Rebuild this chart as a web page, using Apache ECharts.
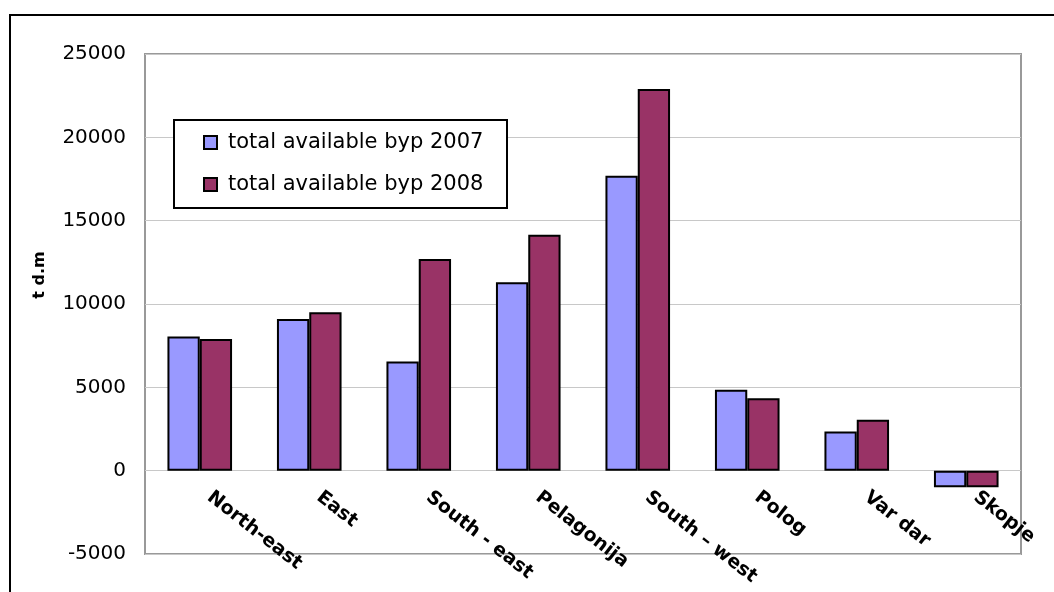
<!DOCTYPE html>
<html>
<head>
<meta charset="utf-8">
<script src="https://cdn.jsdelivr.net/npm/echarts@6/dist/echarts.min.js"></script>
<style>
  html, body { margin: 0; padding: 0; background: #fff; }
  #chart { width: 1054px; height: 592px; }
</style>
</head>
<body>
<div id="chart"></div>
<script>
// Regions of the country
const regions = ['North-east', 'East', 'South - east', 'Pelagonija', 'South – west', 'Polog', 'Var dar', 'Skopje'];

// Total available by-products (t d.m) per region
const byp2007 = [8050, 9100, 6550, 11300, 17700, 4850, 2350, -1000];
const byp2008 = [7900, 9500, 12700, 14150, 22900, 4350, 3050, -1000];

const seriesNames = ['total available byp 2007', 'total available byp 2008'];
const yTicks = { min: -5000, max: 25000, interval: 5000 };
const yAxisTitle = 't d.m';

// Plot area box (px)
const plot = { left: 145, top: 54, right: 33, bottom: 38, height: 500 };
// Category labels hang from the zero line rather than the bottom edge
const zeroOffset = -plot.height * (0 - yTicks.min) / (yTicks.max - yTicks.min);

const chart = echarts.init(document.getElementById('chart'));

const barBorder = { borderColor: '#000', borderWidth: 2 };

chart.setOption({
  animation: false,
  backgroundColor: '#fff',
  textStyle: { fontFamily: 'DejaVu Sans' },
  grid: {
    left: plot.left, top: plot.top, right: plot.right, bottom: plot.bottom,
    outerBoundsMode: 'none',
    containLabel: false,
    show: true, borderColor: '#999', borderWidth: 2, backgroundColor: 'transparent'
  },
  legend: {
    orient: 'vertical',
    left: 203, top: 132,
    padding: 0,
    itemGap: 21,
    itemWidth: 13, itemHeight: 13,
    icon: 'rect',
    z: 10,
    textStyle: { fontFamily: 'DejaVu Sans', fontSize: 21, color: '#000', lineHeight: 21, padding: [0, 0, 0, 6] },
    data: seriesNames
  },
  xAxis: {
    type: 'category',
    data: regions,
    position: 'bottom',
    offset: zeroOffset,
    axisLine: { show: false, onZero: false },
    axisTick: { show: false },
    splitLine: { show: false },
    axisLabel: {
      interval: 0,
      rotate: -38,
      margin: 17,
      padding: [0, 0, 0, 12],
      fontFamily: 'DejaVu Sans',
      fontWeight: 'bold',
      fontSize: 19,
      color: '#000',
      hideOverlap: false
    }
  },
  yAxis: {
    type: 'value',
    min: yTicks.min, max: yTicks.max, interval: yTicks.interval,
    axisLine: { show: false },
    axisTick: { show: false },
    splitLine: { show: true, lineStyle: { color: '#c8c8c8', width: 1 } },
    axisLabel: {
      margin: 19, fontFamily: 'DejaVu Sans', fontSize: 20, color: '#000',
      formatter: v => String(v)
    }
  },
  graphic: [
    {
      type: 'rect', z: -1, silent: true,
      shape: { x: 10, y: 15, width: 1200, height: 800 },
      style: { fill: 'none', stroke: '#000', lineWidth: 2 }
    },
    {
      type: 'rect', z: 5, silent: true,
      shape: { x: 174, y: 120, width: 333, height: 88 },
      style: { fill: '#fff', stroke: '#000', lineWidth: 2 }
    },
    {
      type: 'text', z: 5, silent: true,
      x: 40, y: 275, rotation: Math.PI / 2,
      style: {
        text: yAxisTitle, fill: '#000',
        font: 'bold 16px "DejaVu Sans"',
        align: 'center', verticalAlign: 'middle'
      }
    }
  ],
  series: [
    {
      name: seriesNames[0], type: 'bar', data: byp2007,
      barGap: '0%', barCategoryGap: '41%',
      itemStyle: Object.assign({ color: '#9999FF' }, barBorder)
    },
    {
      name: seriesNames[1], type: 'bar', data: byp2008,
      barGap: '0%', barCategoryGap: '41%',
      itemStyle: Object.assign({ color: '#993366' }, barBorder)
    }
  ]
});
</script>
</body>
</html>
